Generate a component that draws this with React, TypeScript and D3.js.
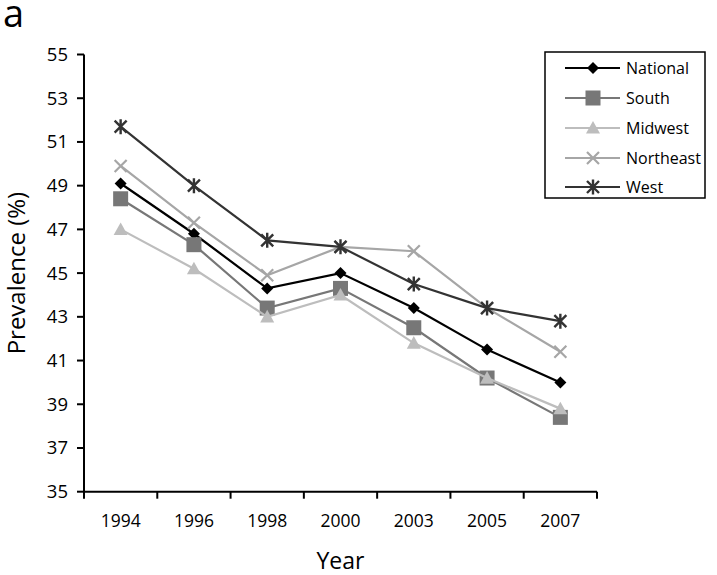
import React from "react";
import * as d3 from "d3";

const years = ["1994", "1996", "1998", "2000", "2003", "2005", "2007"];
const national = [49.1, 46.8, 44.3, 45.0, 43.4, 41.5, 40.0];
const south = [48.4, 46.3, 43.4, 44.3, 42.5, 40.2, 38.4];
const midwest = [47.0, 45.2, 43.0, 44.0, 41.8, 40.2, 38.8];
const northeast = [49.9, 47.3, 44.9, 46.2, 46.0, 43.4, 41.4];
const west = [51.7, 49.0, 46.5, 46.2, 44.5, 43.4, 42.8];
const yTicks = [35, 37, 39, 41, 43, 45, 47, 49, 51, 53, 55];

type Series = { name: string; values: number[]; color: string; marker: string };
const series: Series[] = [
  { name: "National", values: national, color: "#000000", marker: "diamond" },
  { name: "South", values: south, color: "#777777", marker: "square" },
  { name: "Midwest", values: midwest, color: "#bdbdbd", marker: "triangle" },
  { name: "Northeast", values: northeast, color: "#a6a6a6", marker: "x" },
  { name: "West", values: west, color: "#333333", marker: "star" },
];

const FONT = "'Open Sans', 'Noto Sans', sans-serif";

function Marker({ type, x, y, color }: { type: string; x: number; y: number; color: string }) {
  if (type === "diamond") {
    const r = 6;
    return <path d={`M${x},${y - r}L${x + r},${y}L${x},${y + r}L${x - r},${y}Z`} fill={color} />;
  }
  if (type === "square") {
    const s = 7.5;
    return <rect x={x - s} y={y - s} width={2 * s} height={2 * s} fill={color} />;
  }
  if (type === "triangle") {
    const s = 7;
    return <path d={`M${x},${y - s}L${x + s},${y + s * 0.8}L${x - s},${y + s * 0.8}Z`} fill={color} />;
  }
  if (type === "x") {
    const s = 6;
    return (
      <path d={`M${x - s},${y - s}L${x + s},${y + s}M${x - s},${y + s}L${x + s},${y - s}`} stroke={color} strokeWidth={2.2} />
    );
  }
  const s = 6;
  return (
    <path
      d={`M${x - s},${y - s}L${x + s},${y + s}M${x - s},${y + s}L${x + s},${y - s}M${x},${y - s - 1.5}L${x},${y + s + 1.5}`}
      stroke={color}
      strokeWidth={2.4}
    />
  );
}

export default function App() {
  const W = 717, H = 575;
  const left = 84, right = 597, top = 54.5, bottom = 491.7;
  const x = d3.scaleBand<string>().domain(years).range([left, right]);
  const y = d3.scaleLinear().domain([35, 55]).range([bottom, top]);
  const cx = (yr: string) => (x(yr) as number) + x.bandwidth() / 2;
  const line = d3
    .line<number>()
    .x((_, i) => cx(years[i]))
    .y((d) => y(d));
  const boundaries = [...years.map((yr) => x(yr) as number), right];

  const legendX = 545, legendY = 52, legendW = 160, legendH = 146;
  const legendRows = [68, 98, 128, 158, 187];

  return (
    <svg width={W} height={H} style={{ position: "absolute", left: 0, top: 0, background: "#fff" }} fontFamily={FONT}>
      <rect width={W} height={H} fill="#fff" />
      <text x={3} y={27} fontSize={38} fill="#000">a</text>

      {/* y axis */}
      <line x1={left} x2={left} y1={top} y2={bottom} stroke="#000" strokeWidth={2} />
      {yTicks.map((t) => (
        <g key={t}>
          <line x1={left - 7} x2={left} y1={y(t)} y2={y(t)} stroke="#000" strokeWidth={2} />
          <text x={68} y={y(t)} dy="0.35em" textAnchor="end" fontSize={18.5} fill="#000">{t}</text>
        </g>
      ))}

      {/* x axis */}
      <line x1={left} x2={right} y1={bottom} y2={bottom} stroke="#000" strokeWidth={2} />
      {boundaries.map((b, i) => (
        <line key={i} x1={b} x2={b} y1={bottom} y2={bottom + 7} stroke="#000" strokeWidth={2} />
      ))}
      {years.map((yr) => (
        <text key={yr} x={cx(yr)} y={527} textAnchor="middle" fontSize={17.5} fill="#000">{yr}</text>
      ))}

      <text x={(left + right) / 2} y={569} textAnchor="middle" fontSize={23} fill="#000">Year</text>
      <text transform={`translate(25, ${(top + bottom) / 2}) rotate(-90)`} textAnchor="middle" fontSize={24} fill="#000">
        Prevalence (%)
      </text>

      {/* series */}
      {series.map((s) => (
        <g key={s.name}>
          <path d={line(s.values) || ""} fill="none" stroke={s.color} strokeWidth={2.2} />
          {s.values.map((v, i) => (
            <Marker key={i} type={s.marker} x={cx(years[i])} y={y(v)} color={s.color} />
          ))}
        </g>
      ))}

      {/* legend */}
      <rect x={legendX} y={legendY} width={legendW} height={legendH} fill="#fff" stroke="#000" strokeWidth={1.5} />
      {series.map((s, i) => (
        <g key={s.name}>
          <line x1={565} x2={620} y1={legendRows[i]} y2={legendRows[i]} stroke={s.color} strokeWidth={2.2} />
          <Marker type={s.marker} x={593} y={legendRows[i]} color={s.color} />
          <text x={626} y={legendRows[i]} dy="0.35em" fontSize={16} fill="#000">{s.name}</text>
        </g>
      ))}
    </svg>
  );
}
